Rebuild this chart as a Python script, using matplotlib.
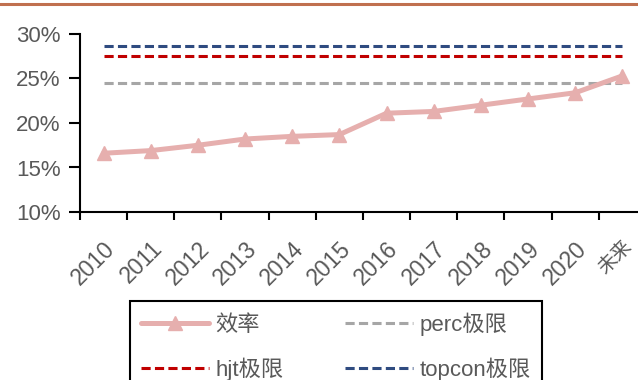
import matplotlib
matplotlib.use("Agg")
import matplotlib.pyplot as plt
from matplotlib.lines import Line2D
from matplotlib.ticker import FixedLocator, PercentFormatter

plt.rcParams['font.family'] = ['Liberation Sans', 'Noto Sans CJK SC']

categories = ['2010', '2011', '2012', '2013', '2014', '2015', '2016',
              '2017', '2018', '2019', '2020', '未来']
efficiency = [16.6, 16.9, 17.5, 18.2, 18.5, 18.7, 21.1, 21.3, 22.0, 22.7, 23.4, 25.3]
perc_limit = 24.5
hjt_limit = 27.5
topcon_limit = 28.7
y_ticks = [10, 15, 20, 25, 30]

text_color = '#595959'
fs = 16

fig = plt.figure(figsize=(6.38, 3.8), dpi=100)
ax = fig.add_axes([80 / 638, 1 - 212 / 380, (646 - 80) / 638, (212 - 34) / 380])

x = list(range(len(categories)))
ax.plot(x, efficiency, color='#E6AFAE', lw=3.6, marker='^', markersize=10,
        solid_capstyle='round', label='效率', zorder=3)
ax.plot(x, [perc_limit] * len(x), color='#A6A6A6', lw=2.2, dashes=(3, 1.4),
        label='perc极限')
ax.plot(x, [hjt_limit] * len(x), color='#C00000', lw=2.2, dashes=(3, 1.4),
        label='hjt极限')
ax.plot(x, [topcon_limit] * len(x), color='#2F4B80', lw=2.2, dashes=(3, 1.4),
        label='topcon极限')

ax.set_xlim(-0.5, len(categories) - 0.5)
ax.set_ylim(10, 30)
ax.set_yticks(y_ticks)
ax.yaxis.set_major_formatter(PercentFormatter(decimals=0))
ax.set_xticks(x)
ax.set_xticklabels(categories, rotation=45, ha='right', va='top',
                   rotation_mode='anchor')
ax.get_xticklabels()[-1].set_fontsize(14)
ax.xaxis.set_minor_locator(FixedLocator([i - 0.5 for i in range(len(categories) + 1)]))
ax.tick_params(axis='x', which='major', length=0, pad=18, labelsize=16.5,
               labelcolor=text_color)
ax.get_xticklabels()[-1].set_fontsize(14)
ax.tick_params(axis='x', which='minor', length=6, width=1.5, color='black')
ax.tick_params(axis='y', length=8, width=1.5, color='black', labelsize=fs,
               labelcolor=text_color, pad=6)

for side in ('top', 'right'):
    ax.spines[side].set_visible(False)
for side in ('left', 'bottom'):
    ax.spines[side].set_linewidth(1.5)
    ax.spines[side].set_color('black')

# top rule
fig.add_artist(Line2D([0, 1], [1 - 3.5 / 380] * 2, transform=fig.transFigure,
                      color='#C0704F', lw=2.2))

handles, labels = ax.get_legend_handles_labels()
order = [0, 2, 1, 3]
leg = fig.legend([handles[i] for i in order], [labels[i] for i in order],
                 loc='upper left', bbox_to_anchor=(130 / 638, 1 - 301 / 380),
                 ncol=2, fontsize=fs, frameon=True, fancybox=False,
                 edgecolor='black', framealpha=1, handlelength=3.05,
                 handletextpad=0.3, columnspacing=2.75, labelspacing=1.0,
                 borderpad=0.5, borderaxespad=0)
leg.get_frame().set_linewidth(1.5)
for t in leg.get_texts():
    t.set_color(text_color)

fig.savefig('out.png', dpi=100)
